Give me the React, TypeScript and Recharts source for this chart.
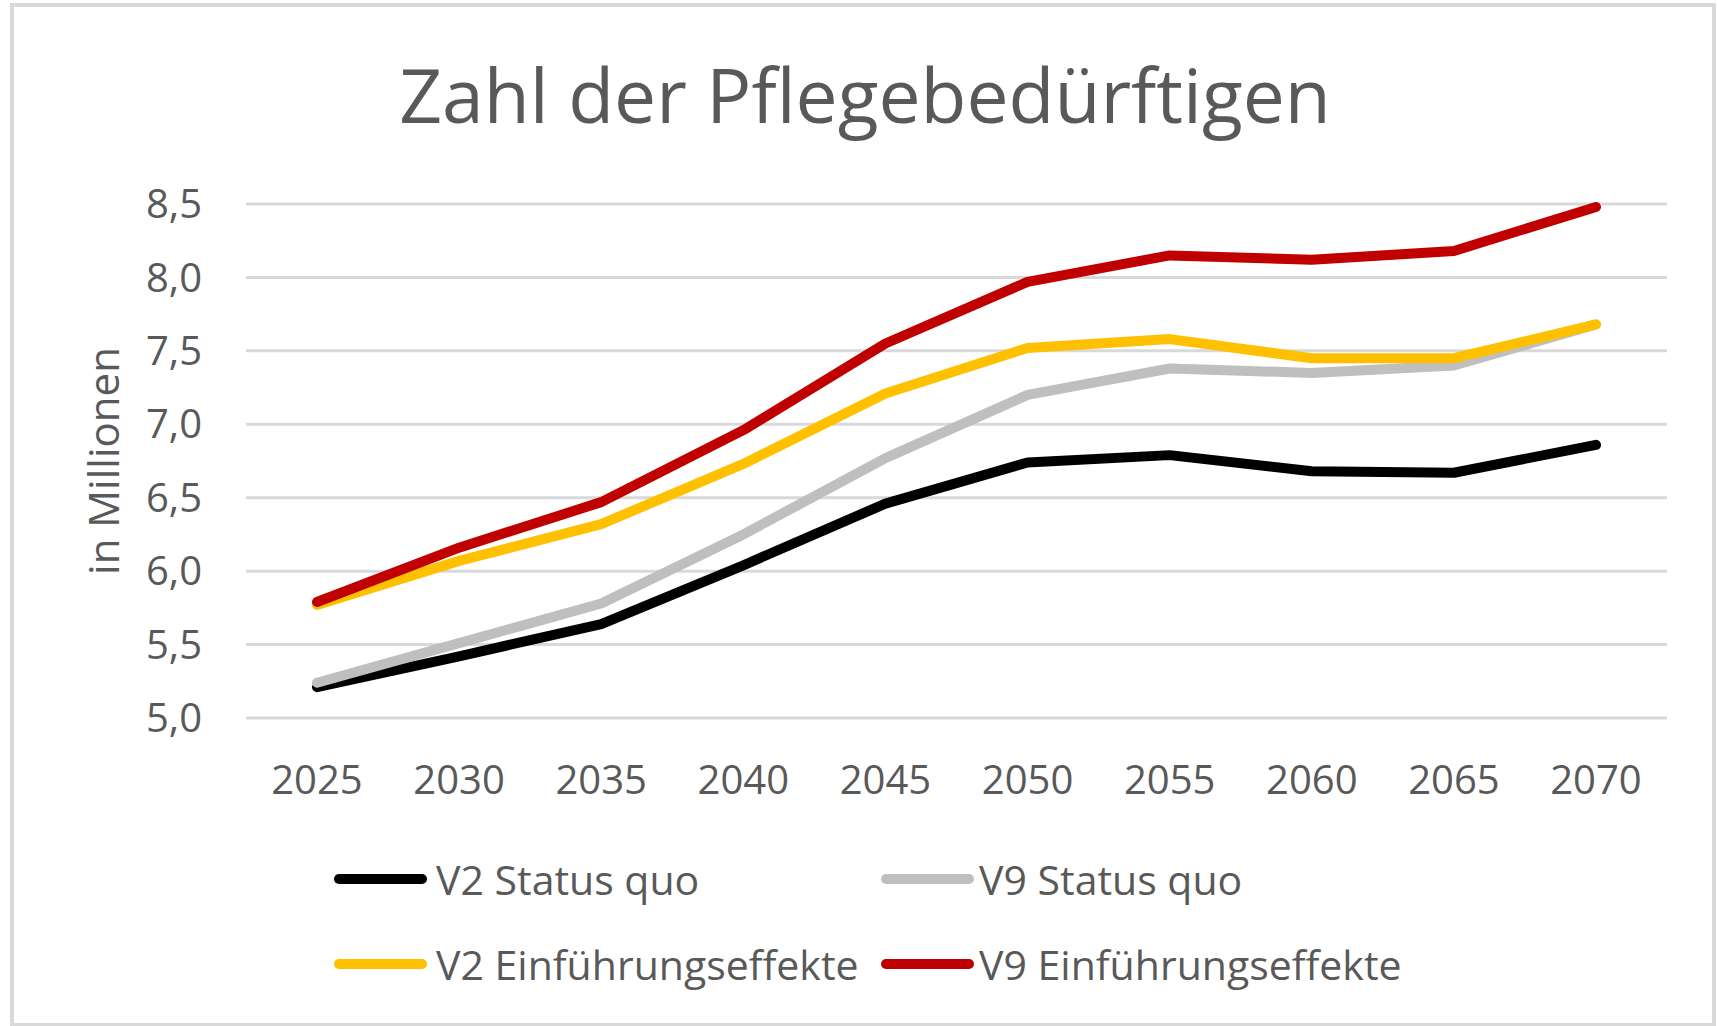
import React from 'react';
import { LineChart, Line, XAxis, YAxis, CartesianGrid, Legend } from 'recharts';

const years = ['2025', '2030', '2035', '2040', '2045', '2050', '2055', '2060', '2065', '2070'];
const v2StatusQuo = [5.21, 5.42, 5.64, 6.04, 6.46, 6.74, 6.79, 6.68, 6.67, 6.86];
const v9StatusQuo = [5.24, 5.51, 5.78, 6.25, 6.77, 7.2, 7.38, 7.35, 7.4, 7.68];
const v2Einfuehrung = [5.77, 6.07, 6.32, 6.73, 7.21, 7.52, 7.58, 7.45, 7.45, 7.68];
const v9Einfuehrung = [5.79, 6.16, 6.47, 6.96, 7.55, 7.97, 8.15, 8.12, 8.18, 8.48];
const yTicks = [5, 5.5, 6, 6.5, 7, 7.5, 8, 8.5];
const seriesKeys = ['v2sq', 'v9sq', 'v2ef', 'v9ef'];
const seriesNames = ['V2 Status quo', 'V9 Status quo', 'V2 Einführungseffekte', 'V9 Einführungseffekte'];
const seriesColors = ['#000000', '#BFBFBF', '#FFC000', '#C00000'];
const seriesValues = [v2StatusQuo, v9StatusQuo, v2Einfuehrung, v9Einfuehrung];
const title = 'Zahl der Pflegebedürftigen';
const yLabel = 'in Millionen';

const data = years.map((year, i) => {
  const row: Record<string, string | number> = { year };
  seriesKeys.forEach((k, s) => {
    row[k] = seriesValues[s][i];
  });
  return row;
});

const FONT = '"Open Sans", sans-serif';
const TEXT = '#595959';

const legendPos = [
  { left: 334, top: 29 },
  { left: 881, top: 29 },
  { left: 334, top: 114 },
  { left: 881, top: 114 },
];

const LegendContent = (props: any) => {
  const payload = props.payload || [];
  const ordered = seriesNames
    .map((n) => payload.find((p: any) => p.value === n))
    .filter(Boolean);
  return (
    <div style={{ position: 'relative', width: 1717, height: 180 }}>
      {ordered.map((p: any, i: number) => (
        <div
          key={i}
          style={{
            position: 'absolute',
            left: legendPos[i].left,
            top: legendPos[i].top,
            height: 60,
            display: 'flex',
            alignItems: 'center',
            whiteSpace: 'nowrap',
          }}
        >
          <span
            style={{
              display: 'inline-block',
              width: 93,
              height: 10,
              borderRadius: 5,
              background: p.color,
            }}
          />
          <span
            style={{
              marginLeft: i % 2 === 0 ? 9 : 5,
              fontFamily: FONT,
              fontSize: 41,
              color: TEXT,
              lineHeight: '60px',
            }}
          >
            {p.value}
          </span>
        </div>
      ))}
    </div>
  );
};

export default function App() {
  return (
    <div
      style={{
        position: 'absolute',
        left: 0,
        top: 0,
        width: 1717,
        height: 1026,
        background: '#ffffff',
        overflow: 'hidden',
      }}
    >
      <div
        style={{
          position: 'absolute',
          left: 10,
          top: 3,
          width: 1706,
          height: 1024,
          boxSizing: 'border-box',
          border: '4px solid #D9D9D9',
        }}
      />
      <div
        style={{
          position: 'absolute',
          left: 0,
          top: 57,
          width: 1730,
          textAlign: 'center',
          fontFamily: FONT,
          fontSize: 75,
          lineHeight: '75px',
          color: TEXT,
          whiteSpace: 'nowrap',
        }}
      >
        {title}
      </div>
      <div style={{ position: 'absolute', left: 0, top: 0 }}>
        <LineChart
          width={1717}
          height={1026}
          data={data}
          margin={{ top: 204, right: 50, bottom: 248, left: 0 }}
        >
          <CartesianGrid vertical={false} stroke="#D9D9D9" strokeWidth={3} />
          <XAxis
            dataKey="year"
            type="category"
            scale="point"
            padding={{ left: 71, right: 71 }}
            axisLine={false}
            tickLine={false}
            tickSize={0}
            tickMargin={48}
            height={60}
            interval={0}
            tick={{ fill: TEXT, fontSize: 40, fontFamily: FONT }}
          />
          <YAxis
            width={246}
            domain={[5, 8.5]}
            ticks={yTicks}
            interval={0}
            axisLine={false}
            tickLine={false}
            tickSize={0}
            tickMargin={44}
            tickFormatter={(v: number) => v.toFixed(1).replace('.', ',')}
            tick={{ fill: TEXT, fontSize: 40, fontFamily: FONT }}
            label={{
              content: () => (
                <text
                  x={119}
                  y={461}
                  transform="rotate(-90, 119, 461)"
                  textAnchor="middle"
                  fill={TEXT}
                  fontSize={42}
                  fontFamily={FONT}
                >
                  {yLabel}
                </text>
              ),
            }}
          />
          <Legend
            layout="horizontal"
            verticalAlign="middle"
            align="center"
            wrapperStyle={{ top: 820, left: 0, width: 1717, height: 180 }}
            content={LegendContent}
          />
          {seriesKeys.map((k, s) => (
            <Line
              key={k}
              dataKey={k}
              name={seriesNames[s]}
              type="linear"
              stroke={seriesColors[s]}
              strokeWidth={10}
              strokeLinecap="round"
              strokeLinejoin="round"
              dot={false}
              activeDot={false}
              isAnimationActive={false}
            />
          ))}
        </LineChart>
      </div>
    </div>
  );
}
